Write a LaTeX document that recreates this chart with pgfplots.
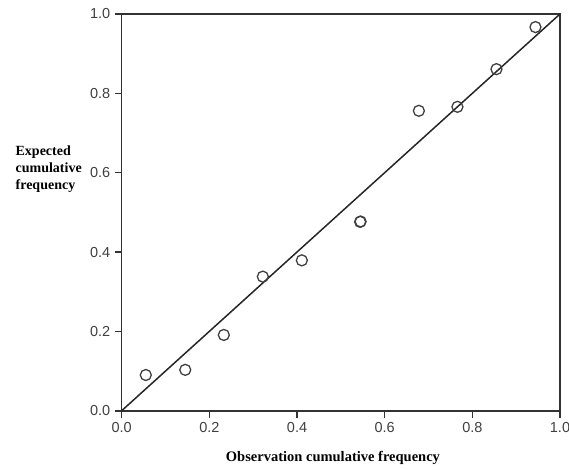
\documentclass[border=0pt]{standalone}
\usepackage{fontspec}
\setmainfont{Liberation Serif}
\newfontfamily\arialfont{Liberation Sans}
\usepackage{pgfplots}
\pgfplotsset{compat=1.18}
\begin{document}
\begin{tikzpicture}
\useasboundingbox (-121.7pt,-58.3pt) rectangle (447.3pt,410.7pt);
\begin{axis}[
  scale only axis,
  width=438.3pt, height=396.7pt,
  at={(0pt,0pt)}, anchor=south west,
  xmin=0, xmax=1, ymin=0, ymax=1,
  xtick={0,0.2,0.4,0.6,0.8,1.0},
  ytick={0,0.2,0.4,0.6,0.8,1.0},
  tick align=outside,
  tick pos=left,
  major tick length=7pt,
  axis line style={line width=1.6pt, black!80},
  tick style={line width=1.6pt, black!80},
  /pgf/number format/assume math mode=true,
  /pgf/number format/fixed,
  /pgf/number format/fixed zerofill,
  /pgf/number format/precision=1,
  tick label style={font=\arialfont\fontsize{14.5}{17}\selectfont, text=black!75},
  xticklabel style={yshift=-1pt},
  yticklabel style={xshift=-1pt},
  xlabel={Observation cumulative frequency},
  xlabel style={font=\bfseries\fontsize{14.5}{17}\selectfont, at={(axis description cs:0.482,-0.119)}, anchor=center},
  ylabel={Expected\\cumulative\\frequency},
  ylabel style={font=\bfseries\fontsize{14}{17}\selectfont, rotate=-90, align=left, at={(axis description cs:-0.250,0.609)}, anchor=west},
  clip=false,
]
\addplot[black!85, line width=1.5pt] coordinates {(0,0) (1,1)};
\addplot[only marks, mark=o, mark size=5.5pt, mark options={line width=1.3pt, black!75}] coordinates {
(0.055,0.090)
(0.145,0.103)
(0.233,0.191)
(0.322,0.338)
(0.411,0.379)
(0.544,0.476)
(0.545,0.477)
(0.678,0.756)
(0.766,0.766)
(0.855,0.861)
(0.944,0.967)
};
\end{axis}
\end{tikzpicture}
\end{document}
